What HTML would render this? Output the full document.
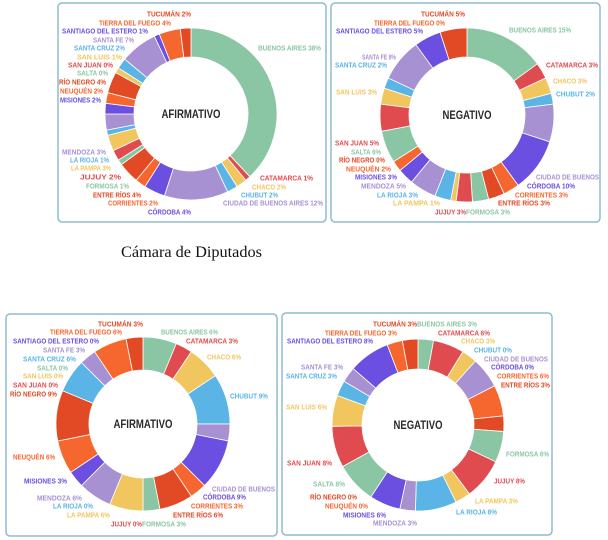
<!DOCTYPE html>
<html><head><meta charset="utf-8">
<style>
html,body{margin:0;padding:0;background:#fff;width:608px;height:540px;overflow:hidden}
svg{display:block}
</style></head>
<body>
<svg id="s" width="608" height="540" xmlns="http://www.w3.org/2000/svg">
<rect x="58" y="3" width="268" height="219" rx="4" fill="#fff" stroke="#8fbccd" stroke-width="1.5"/>
<rect x="331" y="3" width="269" height="219" rx="4" fill="#fff" stroke="#8fbccd" stroke-width="1.5"/>
<rect x="6" y="314" width="271" height="222" rx="4" fill="#fff" stroke="#8fbccd" stroke-width="1.5"/>
<rect x="282" y="313" width="270" height="222" rx="4" fill="#fff" stroke="#8fbccd" stroke-width="1.5"/>
<text x="121" y="257" font-family="Liberation Serif, serif" font-size="16" fill="#111" textLength="141" lengthAdjust="spacingAndGlyphs">Cámara de Diputados</text>
</svg>
<script>
var C=['#8ac6a4','#e04b4f','#f2c65e','#5ab4e5','#a891d3','#6a4fe0','#f5672e','#e24a25'];
var svg=document.getElementById('s');var NS='http://www.w3.org/2000/svg';
function el(t,a,txt){var e=document.createElementNS(NS,t);for(var k in a)e.setAttribute(k,a[k]);if(txt)e.textContent=txt;svg.appendChild(e);return e;}
function donut(cx,cy,R,r,d){var s=0;d.forEach(function(v){s+=v});var a=-Math.PI/2;
d.forEach(function(v,i){if(v<=0)return;var b=a+v/s*2*Math.PI;var L=(b-a)>Math.PI?1:0;
var p='M'+(cx+R*Math.cos(a))+' '+(cy+R*Math.sin(a))+'A'+R+' '+R+' 0 '+L+' 1 '+(cx+R*Math.cos(b))+' '+(cy+R*Math.sin(b))+'L'+(cx+r*Math.cos(b))+' '+(cy+r*Math.sin(b))+'A'+r+' '+r+' 0 '+L+' 0 '+(cx+r*Math.cos(a))+' '+(cy+r*Math.sin(a))+'Z';
el('path',{d:p,fill:C[i%8],stroke:'#fff','stroke-width':'0.8'});a=b;});}
function lab(L){L.forEach(function(l){el('text',{x:l[1],y:l[3]+2.6,'font-family':'Liberation Sans, sans-serif','font-size':'7.5','font-weight':'bold',fill:C[l[4]%8],textLength:(l[2]-l[1]),lengthAdjust:'spacingAndGlyphs'},l[0]);});}
function center(x,y,t,w){el('text',{x:x-w/2,y:y+4,'font-family':'Liberation Sans, sans-serif','font-size':'11.5','font-weight':'bold',fill:'#2a2a2a',textLength:w,lengthAdjust:'spacingAndGlyphs'},t);}

donut(191,114,86,57,[38,1,2,2,12,4,2,4,1,2,3,1,3,2,2,4,0,0,1,2,7,1,4,2]);
donut(467,115,87,58,[15,3,3,2,7,10,3,3,3,3,1,3,5,3,2,0,6,5,3,2,8,5,0,5]);
donut(143,424,87,54,[6,3,6,9,3,9,3,6,3,0,6,0,6,3,6,9,0,0,0,6,3,0,6,3]);
donut(418,425,86,56,[3,6,3,0,6,0,6,3,6,8,3,8,3,6,0,0,8,8,6,3,3,8,3,3]);
center(191,114,'AFIRMATIVO',59);center(467,115,'NEGATIVO',49);center(143,424,'AFIRMATIVO',59);center(418,425,'NEGATIVO',49);

lab([['TUCUMÁN 2%',147,191,14,23],['TIERRA DEL FUEGO 4%',99,171,23,22],['SANTIAGO DEL ESTERO 1%',62,148,31,21],['SANTA FE 7%',93,134,40,20],['SANTA CRUZ 2%',74,125,48,19],['SAN LUIS 1%',77,122,57,18],['SAN JUAN 0%',68,113,65,17],['SALTA 0%',77,108,73,16],['RÍO NEGRO 4%',59,106,82,15],['NEUQUÉN 2%',60,103,91,14],['MISIONES 2%',60,101,100,13],['MENDOZA 3%',62,106,152,12],['LA RIOJA 1%',70,109,160,11],['LA PAMPA 3%',71,111,168,10],['JUJUY 2%',80,121,177,9],['FORMOSA 1%',86,129,186,8],['ENTRE RÍOS 4%',93,141,195,7],['CORRIENTES 2%',108,158,203,6],['CÓRDOBA 4%',148,191,212,5],['BUENOS AIRES 38%',258,321,48,0],['CATAMARCA 1%',260,313,178,1],['CHACO 2%',252,286,187,2],['CHUBUT 2%',241,278,195,3],['CIUDAD DE BUENOS AIRES 12%',223,323,203,4]]);
lab([['TUCUMÁN 5%',421,465,14,23],['TIERRA DEL FUEGO 0%',374,445,23,22],['SANTIAGO DEL ESTERO 5%',336,423,31,21],['SANTA FE 8%',362,396,57,20],['SANTA CRUZ 2%',335,387,65,19],['SAN LUIS 3%',336,377,92,18],['SAN JUAN 5%',335,379,143,17],['SALTA 6%',351,381,152,16],['RÍO NEGRO 0%',339,385,160,15],['NEUQUÉN 2%',346,391,169,14],['MISIONES 3%',355,397,177,13],['MENDOZA 5%',361,406,186,12],['LA RIOJA 3%',377,418,195,11],['LA PAMPA 1%',393,440,203,10],['JUJUY 3%',435,466,212,9],['FORMOSA 3%',466,510,212,8],['ENTRE RÍOS 3%',498,550,203,7],['CORRIENTES 3%',515,568,195,6],['CÓRDOBA 10%',527,575,186,5],['CIUDAD DE BUENOS',536,599,177,4],['CHUBUT 2%',556,595,94,3],['CHACO 3%',553,587,81,2],['CATAMARCA 3%',546,598,65,1],['BUENOS AIRES 15%',509,571,30,0]]);
lab([['TUCUMÁN 3%',98,143,324,23],['TIERRA DEL FUEGO 6%',50,122,332,22],['SANTIAGO DEL ESTERO 0%',13,99,341,21],['SANTA FE 3%',43,85,350,20],['SANTA CRUZ 6%',23,76,359,19],['SALTA 0%',37,68,368,16],['SAN LUIS 0%',23,63,376,18],['SAN JUAN 0%',13,58,385,17],['RÍO NEGRO 9%',10,57,394,15],['NEUQUÉN 6%',13,55,457,14],['MISIONES 3%',24,67,481,13],['MENDOZA 6%',37,82,498,12],['LA RIOJA 0%',53,93,506,11],['LA PAMPA 6%',67,110,515,10],['JUJUY 0%',111,142,524,9],['FORMOSA 3%',142,186,524,8],['ENTRE RÍOS 6%',173,223,515,7],['CORRIENTES 3%',191,243,506,6],['CÓRDOBA 9%',203,246,497,5],['CIUDAD DE BUENOS',212,275,489,4],['CHUBUT 9%',230,268,396,3],['CHACO 6%',207,241,357,2],['CATAMARCA 3%',186,238,341,1],['BUENOS AIRES 6%',161,218,332,0]]);
lab([['TUCUMÁN 3%',373,417,324,23],['BUENOS AIRES 3%',417,477,324,0],['TIERRA DEL FUEGO 3%',325,397,333,22],['CATAMARCA 6%',438,490,333,1],['SANTIAGO DEL ESTERO 8%',287,373,341,21],['CHACO 3%',461,495,341,2],['CHUBUT 0%',474,512,350,3],['CIUDAD DE BUENOS',484,548,359,4],['CÓRDOBA 0%',491,534,367,5],['CORRIENTES 6%',497,549,376,6],['ENTRE RÍOS 3%',501,550,385,7],['SANTA FE 3%',301,343,367,20],['SANTA CRUZ 3%',286,337,376,19],['SAN LUIS 6%',286,327,407,18],['SAN JUAN 8%',287,332,463,17],['SALTA 8%',313,345,484,16],['RÍO NEGRO 0%',310,357,497,15],['NEUQUÉN 0%',325,368,506,14],['MISIONES 6%',343,386,515,13],['MENDOZA 3%',373,417,523,12],['LA RIOJA 8%',456,497,512,11],['LA PAMPA 3%',475,518,501,10],['JUJUY 8%',494,525,481,9],['FORMOSA 6%',506,549,454,8]]);
</script>
</body></html>
